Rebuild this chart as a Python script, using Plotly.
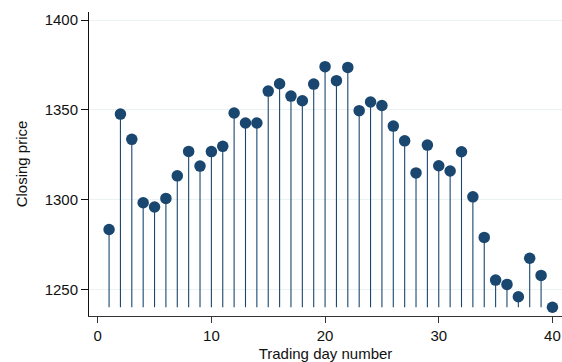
import plotly.graph_objects as go

# Daily closing prices over 40 trading days
days = list(range(1, 41))
closing = [
    1283.3, 1347.6, 1333.5, 1298.2, 1295.8, 1300.6, 1313.2, 1326.8, 1318.6, 1326.7,
    1329.6, 1348.2, 1342.6, 1342.6, 1360.4, 1364.5, 1357.6, 1355.0, 1364.3, 1374.0,
    1366.2, 1373.6, 1349.5, 1354.3, 1352.4, 1340.9, 1332.7, 1314.8, 1330.3, 1318.8,
    1315.9, 1326.6, 1301.5, 1278.9, 1255.1, 1252.7, 1245.8, 1267.3, 1257.7, 1240.0,
]
stem_base = 1240
x_ticks = [0, 10, 20, 30, 40]
y_ticks = [1250, 1300, 1350, 1400]

navy = "#1a476f"
font_family = "Liberation Sans, Arial, sans-serif"
title_font = dict(family=font_family, size=15, color="#111")

# Vertical stems from the base value up to each closing price
stem_x, stem_y = [], []
for d, c in zip(days, closing):
    stem_x += [d, d, None]
    stem_y += [stem_base, c, None]

fig = go.Figure()
fig.add_trace(go.Scatter(
    x=stem_x, y=stem_y, mode="lines",
    line=dict(color=navy, width=1.1),
    hoverinfo="skip", showlegend=False,
))
fig.add_trace(go.Scatter(
    x=days, y=closing, mode="markers",
    marker=dict(color=navy, size=11.5, line=dict(width=0)),
    showlegend=False,
))

fig.update_layout(
    width=562, height=362,
    margin=dict(l=89, r=0, t=12, b=46),
    paper_bgcolor="white", plot_bgcolor="white",
    font=dict(family=font_family, size=15, color="#111"),
)
fig.update_xaxes(
    range=[-0.765, 40.84], automargin=False,
    tickvals=x_ticks, ticks="outside", ticklen=6, tickwidth=1, tickcolor="#333",
    showline=True, linecolor="#333", linewidth=1,
    showgrid=False, zeroline=False,
    title=dict(text="Trading day number", standoff=13, font=title_font),
)
fig.update_yaxes(
    range=[1235.1, 1404.46], automargin=False,
    tickvals=y_ticks, ticks="outside", ticklen=7, tickwidth=1, tickcolor="#111",
    showline=True, linecolor="#111", linewidth=1,
    showgrid=True, gridcolor="#eaf2f3", gridwidth=1,
    zeroline=False,
    title=dict(text="Closing price", standoff=13, font=title_font),
)

fig.write_html("out.html")
